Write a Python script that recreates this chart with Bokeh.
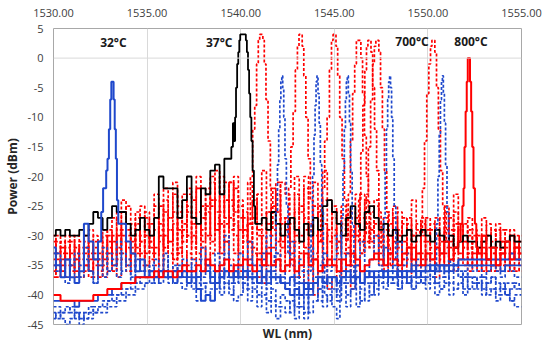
import numpy as np
from bokeh.plotting import figure
from bokeh.models import Range1d, FixedTicker, PrintfTickFormatter, Span, Label, LinearAxis
from bokeh.embed import file_html
from bokeh.resources import INLINE

# ---------------- data ----------------
WL_START = 1530.0          # nm, first sample of the baseline arrays
WL_STEP = 0.25             # nm, sample spacing of the baseline arrays
X_TICKS = [1530, 1535, 1540, 1545, 1550, 1555]
Y_TICKS = [-45, -40, -35, -30, -25, -20, -15, -10, -5, 0, 5]

TEMP_LABELS = ["32°C", "37°C", "700°C", "800°C"]
TEMP_LABEL_WL = [1533.2, 1538.85, 1549.15, 1552.3]
TEMP_LABEL_DBM = [2.7, 2.7, 2.75, 2.75]

# black solid, 37 °C
BLACK_BASE = [
    -30, -29, -30, -29, -30, -30, -29, -30, -28, -26,
    -27, -29, -27, -25, -26, -26, -28, -30, -29, -27,
    -29, -30, -27, -20, -22, -22, -22, -27, -24, -20,
    -27, -28, -22, -23, -19, -18, -23, -17, -15, -15,
    -30, -30, -30, -30, -28, -27, -29, -26, -28, -30,
    -28, -27, -29, -31, -28, -30, -27, -29, -25, -24,
    -26, -28, -30, -27, -25, -28, -29, -26, -25, -27,
    -29, -28, -30, -29, -31, -30, -29, -31, -30, -29,
    -30, -31, -29, -30, -31, -30, -32, -31, -30, -31,
    -31, -32, -31, -30, -32, -31, -32, -31, -30, -31,
    -31]
BLACK_PEAK_X = [1539.45, 1539.55, 1539.62, 1539.68, 1539.72, 1539.78, 1539.84, 1539.9, 1539.95,
                1540.0, 1540.25, 1540.3, 1540.36, 1540.42, 1540.48, 1540.54, 1540.6, 1540.67,
                1540.74, 1540.8]
BLACK_PEAK_Y = [-17, -15, -11, -14, -10, -5, -1, 1, 3, 4, 4, 3, 1, -2, -6, -10, -14, -19, -25, -28]

# blue solid, 32 °C
BLUE_S1_BASE = [
    -32, -35, -37, -34, -37, -38, -36, -28, -31, -34,
    -31, -22, -15, -4, -15, -28, -31, -33, -36, -34,
    -37, -36, -37, -36, -37, -37, -36, -37, -36, -38,
    -37, -39, -41, -40, -41, -38, -37, -36, -37, -36,
    -37, -36, -37, -37, -38, -37, -36, -37, -37, -38,
    -39, -40, -39, -40, -38, -39, -38, -37, -38, -37,
    -37, -38, -37, -36, -37, -37, -38, -37, -36, -37,
    -37, -36, -37, -37, -36, -37, -36, -36, -37, -36,
    -36, -35, -36, -35, -36, -35, -35, -34, -34, -34,
    -34, -34, -34, -34, -34, -34, -34, -34, -33, -34,
    -34]
BLUE_S1_PEAK_X = [1532.5, 1532.6, 1532.7, 1532.78, 1532.85, 1532.92, 1533.0, 1533.06, 1533.12,
                  1533.18, 1533.24, 1533.3, 1533.36, 1533.42, 1533.5]
BLUE_S1_PEAK_Y = [-31, -26, -22, -22, -19, -17, -12, -7, -4, -4, -7, -12, -17, -24, -28]

# blue solid, lower trace
BLUE_S2_BASE = [
    -41, -41, -41, -41, -41, -42, -41, -41, -41, -41,
    -40, -40, -40, -39, -39, -38, -38, -38, -37, -37,
    -37, -36, -37, -36, -36, -37, -36, -36, -37, -36,
    -36, -37, -36, -36, -37, -36, -37, -36, -36, -37,
    -37, -36, -37, -37, -36, -37, -38, -37, -37, -38,
    -38, -37, -38, -38, -39, -38, -38, -37, -38, -37,
    -37, -38, -37, -37, -38, -37, -36, -37, -37, -36,
    -36, -37, -36, -36, -37, -36, -36, -35, -36, -36,
    -35, -36, -35, -35, -35, -36, -35, -35, -35, -35,
    -35, -35, -35, -35, -35, -35, -36, -35, -35, -35,
    -35]

# red solid, 800 °C
RED_S_BASE = [
    -40, -40, -41, -41, -41, -41, -41, -41, -41, -40,
    -40, -40, -39, -39, -39, -38, -38, -38, -37, -37,
    -37, -37, -36, -37, -36, -36, -37, -36, -35, -36,
    -36, -35, -36, -34, -35, -36, -35, -34, -36, -35,
    -35, -34, -35, -36, -34, -35, -33, -35, -34, -36,
    -35, -34, -36, -35, -33, -35, -34, -36, -35, -34,
    -35, -36, -34, -35, -33, -34, -36, -35, -34, -33,
    -34, -35, -33, -34, -35, -33, -32, -34, -33, -35,
    -33, -34, -32, -33, -31, -34, -32, -30, -31, -29,
    -31, -33, -30, -34, -32, -35, -33, -31, -34, -32,
    -33]
RED_S_PEAK_X = [1551.7, 1551.8, 1551.88, 1551.93, 1551.98, 1552.05, 1552.1, 1552.16, 1552.22,
                1552.28, 1552.34, 1552.4, 1552.47, 1552.55, 1552.62]
RED_S_PEAK_Y = [-31, -28, -25, -22, -15, -9, -4, 0, 0, -4, -9, -15, -22, -28, -32]

# red dashed traces
RED_D1_BASE = [
    -33, -30, -35, -31, -36, -32, -34, -30, -33, -37,
    -31, -34, -29, -33, -26, -31, -35, -28, -32, -25,
    -30, -33, -27, -31, -24, -29, -34, -26, -30, -22,
    -28, -33, -25, -30, -21, -27, -32, -24, -29, -22,
    -27, -31, -25, -30, -22, -28, -24, -30, -26, -31,
    -29, -33, -23, -30, -27, -34, -25, -31, -28, -35,
    -30, -26, -33, -29, -36, -27, -31, -24, -32, -28,
    -33, -29, -35, -27, -31, -34, -28, -32, -36, -30,
    -27, -33, -30, -35, -29, -32, -26, -34, -31, -36,
    -30, -34, -31, -28, -35, -32, -29, -33, -36, -31,
    -33]
RED_D1_PEAK_X = [1540.45, 1540.58, 1540.7, 1540.8, 1540.9, 1540.98, 1541.05, 1541.15, 1541.22,
                 1541.3, 1541.4, 1541.52, 1541.65, 1541.78]
RED_D1_PEAK_Y = [-28, -20, -12, -8, -1, 3, 4, 4, 3, -1, -7, -14, -22, -29]

RED_D2_BASE = [
    -35, -31, -33, -37, -30, -34, -32, -36, -29, -33,
    -36, -30, -33, -27, -34, -30, -25, -32, -29, -35,
    -27, -32, -29, -35, -26, -31, -28, -33, -23, -30,
    -32, -26, -30, -35, -24, -29, -20, -31, -27, -33,
    -25, -30, -28, -33, -23, -29, -26, -32, -21, -28,
    -31, -24, -29, -34, -27, -22, -30, -26, -33, -29,
    -27, -32, -25, -30, -35, -28, -23, -31, -26, -34,
    -30, -35, -28, -32, -26, -33, -29, -36, -31, -27,
    -34, -29, -32, -27, -35, -30, -33, -28, -31, -29,
    -33, -36, -30, -34, -31, -29, -35, -32, -30, -34,
    -32]
RED_D2_PEAK_X = [1542.5, 1542.62, 1542.74, 1542.86, 1542.98, 1543.08, 1543.15, 1543.25, 1543.32,
                 1543.42, 1543.54, 1543.66, 1543.78, 1543.9]
RED_D2_PEAK_Y = [-30, -22, -15, -9, -2, 2, 4, 4, 2, -3, -10, -17, -24, -30]

RED_D3_BASE = [
    -31, -36, -34, -30, -35, -33, -37, -31, -34, -30,
    -34, -32, -36, -30, -33, -28, -34, -31, -26, -33,
    -33, -28, -35, -25, -32, -29, -34, -27, -31, -26,
    -30, -34, -27, -23, -31, -26, -33, -28, -21, -30,
    -33, -27, -31, -24, -29, -35, -26, -30, -23, -32,
    -28, -32, -26, -31, -20, -29, -33, -25, -30, -27,
    -32, -29, -34, -26, -30, -23, -33, -28, -31, -25,
    -28, -31, -26, -33, -29, -35, -27, -30, -33, -28,
    -31, -28, -35, -30, -33, -27, -32, -29, -34, -30,
    -35, -31, -33, -36, -29, -34, -32, -35, -30, -33,
    -35]
RED_D3_PEAK_X = [1544.3, 1544.42, 1544.55, 1544.68, 1544.8, 1544.9, 1544.97, 1545.05, 1545.13,
                 1545.23, 1545.35, 1545.48, 1545.6, 1545.72]
RED_D3_PEAK_Y = [-31, -22, -14, -10, -2, 3, 4, 4, 2, -3, -10, -17, -24, -31]

RED_D4_BASE = [
    -34, -37, -32, -35, -31, -36, -33, -35, -31, -34,
    -33, -37, -31, -35, -29, -33, -30, -35, -28, -31,
    -35, -30, -33, -28, -36, -31, -26, -33, -29, -35,
    -28, -22, -31, -25, -20, -29, -23, -27, -21, -26,
    -24, -29, -21, -27, -23, -19, -28, -22, -26, -21,
    -23, -28, -20, -26, -22, -29, -21, -25, -19, -24,
    -29, -33, -27, -31, -28, -35, -29, -32, -27, -30,
    -35, -30, -33, -29, -32, -27, -34, -30, -28, -33,
    -29, -32, -27, -31, -25, -34, -29, -33, -28, -32,
    -31, -33, -35, -30, -33, -36, -32, -29, -34, -32,
    -30]
RED_D4_PEAK_X = [1545.7, 1545.8, 1545.92, 1546.04, 1546.14, 1546.22, 1546.3, 1546.38, 1546.46,
                 1546.56, 1546.66, 1546.76, 1546.88, 1547.0]
RED_D4_PEAK_Y = [-30, -23, -14, -6, -1, 3, 3, 3, 0, -6, -13, -20, -26, -31]

RED_D5_BASE = [
    -37, -33, -36, -32, -35, -37, -31, -35, -36, -32,
    -35, -33, -30, -36, -32, -29, -36, -33, -30, -36,
    -26, -31, -23, -29, -22, -27, -21, -25, -28, -23,
    -24, -20, -27, -22, -25, -19, -26, -21, -24, -28,
    -36, -29, -34, -32, -37, -30, -35, -28, -33, -36,
    -27, -35, -31, -37, -29, -34, -38, -31, -36, -30,
    -35, -31, -37, -33, -29, -34, -31, -36, -33, -37,
    -32, -36, -30, -34, -37, -31, -33, -35, -30, -34,
    -33, -36, -30, -34, -32, -36, -28, -31, -35, -33,
    -34, -30, -36, -32, -35, -33, -31, -36, -33, -30,
    -36]
RED_D5_PEAK_X = [1546.25, 1546.36, 1546.47, 1546.58, 1546.68, 1546.76, 1546.83, 1546.92, 1547.0,
                 1547.1, 1547.2, 1547.32, 1547.44, 1547.56]
RED_D5_PEAK_Y = [-31, -24, -16, -8, -2, 2, 3, 3, 1, -5, -12, -19, -26, -32]

RED_D6_BASE = [
    -36, -34, -37, -33, -36, -34, -37, -33, -36, -35,
    -37, -35, -34, -31, -37, -34, -32, -36, -33, -30,
    -36, -34, -32, -37, -30, -33, -36, -32, -35, -33,
    -34, -37, -32, -35, -33, -28, -36, -31, -34, -37,
    -34, -37, -31, -35, -33, -38, -32, -36, -34, -30,
    -36, -31, -37, -33, -38, -35, -40, -36, -34, -39,
    -37, -34, -36, -32, -39, -35, -33, -37, -34, -36,
    -37, -33, -35, -31, -36, -34, -37, -32, -35, -31,
    -36, -34, -37, -33, -35, -31, -36, -34, -32, -35,
    -33, -35, -32, -34, -36, -35, -33, -31, -35, -36,
    -34]
RED_D6_PEAK_X = [1546.65, 1546.76, 1546.88, 1547.0, 1547.1, 1547.18, 1547.26, 1547.34, 1547.42,
                 1547.52, 1547.62, 1547.74, 1547.86, 1547.98]
RED_D6_PEAK_Y = [-30, -23, -15, -7, -1, 2, 3, 3, 1, -5, -12, -19, -26, -32]

RED_D7_BASE = [
    -30, -33, -31, -34, -33, -30, -35, -32, -37, -31,
    -34, -29, -32, -35, -30, -24, -29, -33, -27, -31,
    -28, -31, -25, -30, -32, -27, -23, -29, -31, -25,
    -31, -22, -29, -26, -30, -24, -28, -31, -25, -20,
    -29, -26, -32, -27, -30, -33, -28, -25, -31, -27,
    -33, -27, -30, -25, -32, -28, -34, -29, -24, -31,
    -25, -31, -28, -33, -26, -30, -27, -32, -29, -24,
    -31, -27, -33, -25, -30, -28, -32, -24, -29, -26,
    -30, -25, -27, -31, -26, -29, -23, -28, -32, -27,
    -29, -32, -27, -30, -33, -28, -31, -34, -29, -32,
    -31]
RED_D7_PEAK_X = [1549.65, 1549.76, 1549.88, 1550.0, 1550.1, 1550.18, 1550.25, 1550.33, 1550.41,
                 1550.51, 1550.61, 1550.73, 1550.85, 1550.97]
RED_D7_PEAK_Y = [-30, -22, -14, -6, -1, 2, 3, 3, 1, -5, -12, -19, -25, -31]

# blue dashed traces
BLUE_D1_BASE = [
    -35, -33, -36, -38, -34, -37, -35, -32, -36, -38,
    -34, -37, -33, -35, -31, -36, -34, -37, -35, -36,
    -36, -35, -37, -36, -34, -37, -36, -35, -37, -36,
    -35, -37, -34, -36, -38, -35, -37, -33, -36, -38,
    -35, -37, -34, -38, -36, -33, -37, -35, -38, -36,
    -37, -35, -39, -36, -38, -40, -37, -39, -36, -38,
    -37, -39, -36, -38, -37, -35, -38, -36, -37, -39,
    -36, -38, -37, -35, -38, -36, -37, -39, -36, -38,
    -37, -36, -38, -37, -35, -38, -36, -37, -39, -37,
    -38, -37, -39, -38, -37, -39, -38, -40, -39, -38,
    -39]
BLUE_D1_PEAK_X = [1541.85, 1541.93, 1542.0, 1542.06, 1542.12, 1542.17, 1542.22, 1542.27, 1542.33,
                  1542.4, 1542.48, 1542.57]
BLUE_D1_PEAK_Y = [-33, -26, -18, -12, -7, -4, -3, -5, -10, -17, -25, -33]

BLUE_D2_BASE = [
    -42, -42, -43, -43, -42, -43, -44, -43, -43, -42,
    -42, -41, -41, -40, -40, -39, -39, -38, -38, -37,
    -37, -37, -36, -37, -36, -37, -38, -36, -37, -36,
    -38, -37, -39, -38, -36, -39, -37, -38, -40, -37,
    -38, -36, -39, -37, -40, -38, -41, -39, -42, -40,
    -41, -43, -40, -42, -44, -41, -43, -42, -40, -41,
    -39, -41, -38, -40, -39, -37, -38, -36, -37, -38,
    -37, -36, -38, -37, -36, -37, -38, -36, -37, -38,
    -38, -37, -38, -39, -37, -38, -39, -38, -37, -39,
    -39, -38, -40, -39, -39, -40, -39, -40, -41, -40,
    -40]
BLUE_D2_PEAK_X = [1543.72, 1543.8, 1543.88, 1543.95, 1544.0, 1544.05, 1544.1, 1544.16, 1544.22,
                  1544.29, 1544.37, 1544.46]
BLUE_D2_PEAK_Y = [-36, -28, -20, -13, -8, -4, -3, -6, -11, -18, -26, -35]

BLUE_D3_BASE = [
    -44, -43, -44, -45, -44, -43, -45, -44, -44, -43,
    -43, -43, -42, -42, -41, -41, -40, -40, -39, -39,
    -38, -38, -37, -38, -37, -38, -37, -38, -39, -38,
    -39, -41, -38, -40, -39, -37, -40, -38, -39, -41,
    -40, -38, -41, -39, -42, -40, -43, -41, -44, -42,
    -43, -41, -44, -42, -40, -43, -41, -39, -42, -40,
    -42, -44, -41, -43, -40, -42, -39, -41, -38, -40,
    -38, -39, -37, -38, -39, -38, -37, -39, -38, -37,
    -39, -38, -40, -39, -38, -40, -39, -38, -40, -39,
    -38, -39, -38, -40, -39, -41, -40, -39, -41, -42,
    -42]
BLUE_D3_PEAK_X = [1545.35, 1545.43, 1545.5, 1545.57, 1545.62, 1545.67, 1545.72, 1545.78, 1545.84,
                  1545.91, 1546.0, 1546.1]
BLUE_D3_PEAK_Y = [-36, -27, -19, -12, -7, -4, -3, -6, -11, -19, -28, -37]

BLUE_D4_BASE = [
    -43, -44, -43, -42, -43, -44, -43, -44, -42, -43,
    -42, -42, -41, -41, -40, -40, -39, -39, -38, -38,
    -38, -37, -38, -37, -36, -37, -38, -37, -36, -37,
    -36, -38, -37, -35, -38, -36, -39, -37, -38, -36,
    -37, -39, -36, -38, -35, -37, -39, -36, -38, -37,
    -39, -37, -42, -38, -43, -40, -38, -41, -37, -39,
    -37, -40, -38, -42, -39, -36, -41, -38, -40, -37,
    -36, -38, -35, -37, -39, -36, -38, -37, -35, -37,
    -36, -37, -35, -36, -37, -36, -35, -37, -36, -37,
    -37, -38, -37, -38, -37, -38, -39, -38, -38, -39,
    -39]
BLUE_D4_PEAK_X = [1547.6, 1547.68, 1547.75, 1547.82, 1547.88, 1547.93, 1547.98, 1548.03, 1548.09,
                  1548.16, 1548.24, 1548.33]
BLUE_D4_PEAK_Y = [-35, -27, -19, -12, -7, -4, -3, -5, -10, -17, -25, -34]

BLUE_D5_BASE = [
    -33, -36, -34, -37, -35, -33, -37, -34, -36, -38,
    -35, -32, -36, -34, -37, -33, -35, -38, -34, -36,
    -35, -37, -34, -36, -33, -37, -35, -36, -34, -37,
    -34, -36, -32, -35, -37, -33, -36, -30, -35, -37,
    -33, -36, -31, -35, -37, -34, -30, -36, -33, -37,
    -35, -31, -37, -34, -36, -32, -38, -35, -33, -36,
    -34, -30, -36, -33, -37, -35, -31, -36, -34, -30,
    -35, -32, -36, -34, -31, -35, -33, -36, -34, -35,
    -34, -36, -35, -33, -36, -34, -35, -36, -37, -35,
    -36, -35, -37, -36, -35, -36, -37, -35, -36, -37,
    -37]
BLUE_D5_PEAK_X = [1550.42, 1550.5, 1550.57, 1550.64, 1550.7, 1550.75, 1550.8, 1550.85, 1550.91,
                  1550.98, 1551.06, 1551.15]
BLUE_D5_PEAK_Y = [-36, -28, -20, -13, -7, -4, -3, -6, -11, -18, -26, -35]

# ---------------- styling ----------------
RED = "#ff0000"
BLUE = "#1f48cc"
BLACK = "#000000"
FONT = "Open Sans"


def trace(base, peak_x=None, peak_y=None):
    wl = WL_START + WL_STEP * np.arange(len(base))
    y = np.asarray(base, dtype=float)
    if peak_x is None:
        return wl, y
    px = np.asarray(peak_x, dtype=float)
    py = np.asarray(peak_y, dtype=float)
    keep = (wl < px[0]) | (wl > px[-1])
    xs = np.concatenate([wl[keep], px])
    ys = np.concatenate([y[keep], py])
    order = np.argsort(xs, kind="stable")
    return xs[order], ys[order]


p = figure(width=550, height=344, output_backend="svg", toolbar_location=None,
           x_range=Range1d(1530, 1555), y_range=Range1d(-45, 5),
           x_axis_location="above",
           min_border_left=53, min_border_right=29, min_border_top=28, min_border_bottom=20)
p.outline_line_color = "#a8a8a8"
p.outline_line_width = 1
p.background_fill_color = "white"
p.border_fill_color = "white"

xa = p.xaxis[0]
xa.ticker = FixedTicker(ticks=X_TICKS)
xa.formatter = PrintfTickFormatter(format="%.2f")
xa.axis_line_color = None
xa.major_tick_line_color = None
xa.minor_tick_line_color = None
xa.major_tick_out = 0
xa.major_tick_in = 0
xa.major_label_standoff = 12
xa.major_label_text_font = FONT
xa.major_label_text_font_size = "11px"
xa.major_label_text_color = "#404040"

# bottom axis carrying only the axis title
xb = LinearAxis(ticker=FixedTicker(ticks=[]), axis_label="WL (nm)")
xb.axis_line_color = None
xb.major_tick_line_color = None
xb.minor_tick_line_color = None
xb.major_tick_out = 0
xb.major_tick_in = 0
xb.minor_tick_out = 0
xb.minor_tick_in = 0
xb.major_label_text_font_size = "0px"
xb.major_label_standoff = 0
xb.axis_label_standoff = 0
xb.axis_label_text_font = FONT
xb.axis_label_text_font_size = "12px"
xb.axis_label_text_font_style = "bold"
xb.axis_label_text_color = "#262626"
p.add_layout(xb, "below")

ya = p.yaxis[0]
ya.ticker = FixedTicker(ticks=Y_TICKS)
ya.formatter = PrintfTickFormatter(format="%d")
ya.axis_line_color = None
ya.major_tick_line_color = None
ya.minor_tick_line_color = None
ya.major_tick_out = 0
ya.major_tick_in = 0
ya.major_label_standoff = 10
ya.major_label_text_font = FONT
ya.major_label_text_font_size = "11px"
ya.major_label_text_color = "#404040"
ya.axis_label = "Power (dBm)"
ya.axis_label_text_font = FONT
ya.axis_label_text_font_size = "12px"
ya.axis_label_text_font_style = "bold"
ya.axis_label_text_color = "#262626"
ya.axis_label_standoff = 3

p.xgrid.ticker = FixedTicker(ticks=X_TICKS)
p.xgrid.grid_line_color = "#d9d9d9"
p.xgrid.grid_line_width = 1
p.ygrid.grid_line_color = None
p.add_layout(Span(location=0, dimension="width", line_color="#d9d9d9", line_width=1))

# red dashed
for base, px, py in [(RED_D1_BASE, RED_D1_PEAK_X, RED_D1_PEAK_Y),
                     (RED_D2_BASE, RED_D2_PEAK_X, RED_D2_PEAK_Y),
                     (RED_D3_BASE, RED_D3_PEAK_X, RED_D3_PEAK_Y),
                     (RED_D4_BASE, RED_D4_PEAK_X, RED_D4_PEAK_Y),
                     (RED_D5_BASE, RED_D5_PEAK_X, RED_D5_PEAK_Y),
                     (RED_D6_BASE, RED_D6_PEAK_X, RED_D6_PEAK_Y),
                     (RED_D7_BASE, RED_D7_PEAK_X, RED_D7_PEAK_Y)]:
    x, y = trace(base, px, py)
    p.step(x, y, mode="center", line_color=RED, line_width=1.7, line_dash="3 2")

# black 37 °C
x, y = trace(BLACK_BASE, BLACK_PEAK_X, BLACK_PEAK_Y)
p.step(x, y, mode="center", line_color=BLACK, line_width=1.8)

# blue dashed
for base, px, py in [(BLUE_D1_BASE, BLUE_D1_PEAK_X, BLUE_D1_PEAK_Y),
                     (BLUE_D2_BASE, BLUE_D2_PEAK_X, BLUE_D2_PEAK_Y),
                     (BLUE_D3_BASE, BLUE_D3_PEAK_X, BLUE_D3_PEAK_Y),
                     (BLUE_D4_BASE, BLUE_D4_PEAK_X, BLUE_D4_PEAK_Y),
                     (BLUE_D5_BASE, BLUE_D5_PEAK_X, BLUE_D5_PEAK_Y)]:
    x, y = trace(base, px, py)
    p.step(x, y, mode="center", line_color=BLUE, line_width=1.7, line_dash="3 2")

# blue solid
x, y = trace(BLUE_S2_BASE)
p.step(x, y, mode="center", line_color=BLUE, line_width=1.8)
x, y = trace(BLUE_S1_BASE, BLUE_S1_PEAK_X, BLUE_S1_PEAK_Y)
p.step(x, y, mode="center", line_color=BLUE, line_width=2)

# red solid 800 °C
x, y = trace(RED_S_BASE, RED_S_PEAK_X, RED_S_PEAK_Y)
p.step(x, y, mode="center", line_color=RED, line_width=2)

for txt, wx, wy in zip(TEMP_LABELS, TEMP_LABEL_WL, TEMP_LABEL_DBM):
    p.add_layout(Label(x=wx, y=wy, text=txt, text_align="center", text_baseline="middle",
                       text_font=FONT, text_font_size="12px", text_font_style="bold",
                       text_color="#1a1a1a"))

open("out.html", "w").write(file_html(p, INLINE))
